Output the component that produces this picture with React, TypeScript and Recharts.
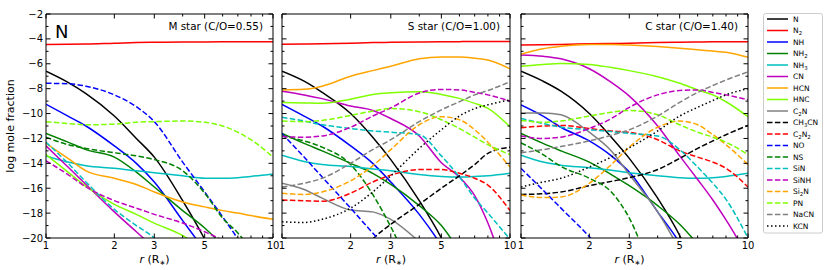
import React from 'react'
import { LineChart, Line, XAxis, YAxis } from 'recharts'

const W = 830
const H = 270
const TOP = 14
const BOTTOM = 238

// radius grid (R*) shared by every panel
const R = [1, 1.25, 1.5, 2, 2.5, 3, 4, 5, 6, 7, 8, 10]

const NAMES = ['N', 'N_2', 'NH', 'NH_2', 'NH_3', 'CN', 'HCN', 'HNC', 'C_2N', 'CH_3CN', 'C_2N_2', 'NO', 'NS', 'SiN', 'SiNH', 'Si_2N', 'PN', 'NaCN', 'KCN']
const COLORS = ['#000000', '#ff0000', '#0000ff', '#008000', '#00bfbf', '#bf00bf', '#ffa500', '#7fff00', '#808080', '#000000', '#ff0000', '#0000ff', '#008000', '#00bfbf', '#bf00bf', '#ffa500', '#7fff00', '#808080', '#000000']
const DASH = '5.5 2.4'
const DOT = '1.5 2.5'
const DASHES = ['', '', '', '', '', '', '', '', '', DASH, DASH, DASH, DASH, DASH, DASH, DASH, DASH, DASH, DOT]

const X_TICKS = [1, 2, 3, 4, 5, 6, 7, 8, 9, 10]
const X_LABELS = [1, 2, 3, 5, 10]
const Y_TICKS = [-20, -19, -18, -17, -16, -15, -14, -13, -12, -11, -10, -9, -8, -7, -6, -5, -4, -3, -2]
const Y_LABELS = [-20, -18, -16, -14, -12, -10, -8, -6, -4, -2]

// log mole fraction, rows in NAMES order, columns on R
const M_STAR = [
  [-6.6, -7.5, -8.4, -10.2, -12.0, -13.5, -17.0, -20.1, -23, -26, -29, -35], // N
  [-4.45, -4.44, -4.42, -4.35, -4.3, -4.27, -4.25, -4.24, -4.23, -4.22, -4.22, -4.22], // N2
  [-9.25, -10.2, -11.0, -12.6, -14.0, -15.5, -18.6, -21, -23, -25, -27, -30], // NH
  [-11.6, -12.3, -12.9, -13.5, -14.7, -15.9, -17.8, -19.2, -20.6, -22, -23, -25], // NH2
  [-13.4, -13.9, -14.2, -14.4, -14.6, -14.75, -15.0, -15.2, -15.2, -15.15, -15.05, -14.85], // NH3
  [-12.6, -14.3, -15.7, -17.9, -19.5, -20.8, -23, -25, -27, -29, -31, -35], // CN
  [-12.4, -13.6, -14.6, -15.2, -15.7, -16.3, -17.1, -17.5, -17.8, -18.0, -18.2, -18.5], // HCN
  [-13.3, -14.7, -15.85, -17.3, -18.1, -18.8, -19.8, -21, -22, -23, -24, -26], // HNC
  null, // C2N
  null, // CH3CN
  null, // C2N2
  [-7.57, -7.6, -7.8, -8.5, -9.45, -10.65, -13.9, -16.3, -18.3, -20.1, -22, -26], // NO
  [-11.9, -12.5, -12.8, -13.15, -13.4, -13.7, -14.6, -16.4, -18.4, -19.6, -21, -25], // NS
  [-12.3, -14.0, -15.5, -17.7, -19.0, -20.0, -22.5, -25, -27, -29, -31, -35], // SiN
  [-13.8, -14.9, -15.9, -17.0, -17.6, -18.1, -18.8, -19.5, -20.2, -21, -22, -24], // SiNH
  null, // Si2N
  [-10.65, -10.8, -10.9, -10.85, -10.7, -10.65, -10.6, -10.7, -11.0, -11.5, -12.1, -13.5], // PN
  null, // NaCN
  null, // KCN
]

const S_STAR = [
  [-6.6, -7.4, -8.3, -10.0, -11.9, -13.7, -17.0, -20.0, -23, -26, -29, -35], // N
  [-4.44, -4.42, -4.4, -4.35, -4.3, -4.28, -4.25, -4.23, -4.22, -4.21, -4.2, -4.2], // N2
  [-9.26, -10.2, -11.0, -12.6, -14.0, -15.5, -18.1, -20.6, -23, -25, -27, -30], // NH
  [-11.6, -12.4, -13.0, -14.0, -14.8, -15.7, -17.4, -19.0, -21, -22.5, -24, -27], // NH2
  [-13.35, -13.85, -14.1, -14.25, -14.45, -14.6, -14.9, -15.05, -15.1, -15.05, -15.0, -14.8], // NH3
  [-8.2, -8.5, -8.8, -9.4, -9.75, -10.4, -11.8, -13.95, -15.1, -16.6, -18.8, -24], // CN
  [-8.1, -8.05, -7.8, -7.0, -6.55, -6.2, -5.6, -5.45, -5.45, -5.55, -5.7, -6.4], // HCN
  [-9.1, -9.15, -9.18, -8.85, -8.46, -8.32, -8.24, -8.46, -8.78, -9.18, -9.58, -11.06], // HNC
  [-15.6, -16.1, -16.8, -17.75, -17.9, -18.5, -20.3, -22, -24, -26, -28, -32], // C2N
  [-28, -26, -24.5, -22.5, -20.1, -18.9, -17.3, -16.0, -15.0, -14.1, -13.2, -12.7], // CH3CN
  [-16.95, -17.0, -17.05, -16.4, -15.5, -14.95, -14.5, -14.5, -14.8, -15.2, -15.75, -17.8], // C2N2
  [-11.6, -13.5, -15.1, -17.6, -19.6, -21.2, -24, -27, -30, -33, -36, -40], // NO
  [-11.8, -12.2, -12.7, -14.1, -16.5, -19.1, -24, -28, -32, -35, -38, -42], // NS
  [-10.3, -10.6, -10.9, -11.2, -11.4, -11.5, -11.7, -13.4, -15.1, -16.8, -18.0, -20.1], // SiN
  [-11.85, -11.9, -11.8, -11.1, -10.2, -9.55, -8.35, -8.06, -8.1, -8.3, -8.5, -9.0], // SiNH
  [-16.4, -16.5, -16.3, -15.4, -14.2, -12.9, -10.9, -10.25, -10.5, -11.3, -12.3, -14.3], // Si2N
  [-10.6, -10.65, -10.55, -10.15, -9.8, -9.6, -9.85, -10.5, -11.2, -11.9, -12.5, -13.3], // PN
  [-15.9, -15.6, -15.2, -14.0, -12.9, -12.1, -10.65, -9.7, -9.05, -8.5, -8.15, -7.45], // NaCN
  [-18.7, -18.75, -18.5, -17.6, -16.3, -15.0, -12.8, -11.3, -10.2, -9.6, -9.3, -8.9], // KCN
]

const C_STAR = [
  [-6.6, -7.4, -8.2, -10.0, -11.9, -13.6, -16.8, -19.8, -23, -26, -29, -35], // N
  [-4.5, -4.48, -4.45, -4.4, -4.37, -4.35, -4.3, -4.27, -4.25, -4.23, -4.22, -4.22], // N2
  [-9.3, -10.2, -11.1, -12.2, -13.4, -14.7, -17.9, -20.4, -23, -25, -27, -30], // NH
  [-11.6, -12.4, -13.0, -13.9, -14.9, -15.8, -17.4, -18.9, -20.5, -22, -23.5, -26], // NH2
  [-13.35, -13.9, -14.15, -14.35, -14.55, -14.75, -15.0, -15.15, -15.2, -15.15, -15.05, -14.8], // NH3
  [-5.3, -5.4, -5.6, -6.4, -7.5, -8.6, -11.0, -13.4, -15.3, -16.95, -18.55, -21.5], // CN
  [-5.24, -4.8, -4.6, -4.45, -4.45, -4.5, -4.62, -4.75, -4.88, -4.98, -5.08, -5.48], // HCN
  [-6.2, -6.05, -5.98, -6.05, -6.3, -6.55, -7.04, -7.57, -8.1, -8.5, -9.05, -10.25], // HNC
  [-9.95, -9.95, -10.1, -11.5, -13.0, -14.9, -17.9, -21, -24, -27, -30, -35], // C2N
  [-16.5, -16.45, -16.3, -15.8, -15.45, -15.15, -14.5, -13.6, -12.8, -12.2, -11.7, -10.95], // CH3CN
  [-11.15, -11.0, -10.95, -11.2, -11.4, -11.5, -12.1, -13.0, -13.5, -13.9, -14.4, -15.9], // C2N2
  [-14.4, -16.15, -17.6, -19.9, -22, -24, -28, -32, -35, -38, -40, -45], // NO
  [-12.35, -13.3, -14.25, -15.2, -16.3, -18.4, -24, -28, -32, -35, -38, -42], // NS
  [-10.4, -10.8, -11.1, -11.3, -11.45, -11.6, -11.8, -12.9, -14.3, -15.6, -16.9, -20.0], // SiN
  [-11.8, -12.0, -11.9, -11.2, -10.4, -9.5, -8.5, -8.15, -8.1, -8.3, -8.5, -8.9], // SiNH
  [-16.55, -16.75, -16.7, -15.6, -14.1, -12.7, -11.1, -10.6, -10.9, -11.7, -12.5, -14.1], // Si2N
  [-10.55, -10.7, -10.6, -10.2, -9.9, -9.75, -10.1, -10.9, -11.5, -11.9, -12.3, -13.3], // PN
  [-13.15, -12.9, -12.65, -12.2, -11.75, -11.3, -10.2, -9.1, -8.3, -7.75, -7.3, -6.65], // NaCN
  [-15.9, -15.5, -15.2, -14.3, -13.5, -12.75, -11.4, -10.2, -9.5, -8.95, -8.5, -8.0], // KCN
]

const PANELS = [
  { title: 'M star (C/O=0.55)', left: 46, right: 273, values: M_STAR },
  { title: 'S star (C/O=1.00)', left: 282, right: 510, values: S_STAR },
  { title: 'C star (C/O=1.40)', left: 521, right: 748, values: C_STAR },
]

const FONT = 'DejaVu Sans'

const fmt = (v: number) => (v < 0 ? '\u2212' + Math.abs(v) : String(v))

// "C_2N_2" -> C<sub>2</sub>N<sub>2</sub>
function Formula({ name, size }: { name: string; size: number }) {
  const parts = name.split(/_(\d)/)
  const out: React.ReactNode[] = []
  let shifted = false
  parts.forEach((part, i) => {
    if (!part) return
    if (i % 2 === 1) {
      out.push(<tspan key={i} dy={size * 0.3} fontSize={size * 0.72}>{part}</tspan>)
      shifted = true
    } else {
      out.push(<tspan key={i} dy={shifted ? -size * 0.3 : 0}>{part}</tspan>)
      shifted = false
    }
  })
  return <>{out}</>
}

function Panel({ panel, first }: { panel: typeof PANELS[number]; first: boolean }) {
  const data = R.map((r, i) => {
    const row: Record<string, number> = { r }
    panel.values.forEach((arr, s) => {
      if (arr) row[NAMES[s]] = arr[i]
    })
    return row
  })

  const bottomTick = (props: any) => {
    const { x, payload } = props
    const major = X_LABELS.includes(payload.value)
    return (
      <g>
        <line x1={x} x2={x} y1={BOTTOM} y2={BOTTOM - (major ? 4.5 : 2.5)} stroke="#000" strokeWidth={1} />
        {major && (
          <text x={x} y={249} textAnchor="middle" fontSize={10} fontFamily={FONT} fill="#000">
            {payload.value}
          </text>
        )}
      </g>
    )
  }
  const topTick = (props: any) => {
    const { x, payload } = props
    const major = X_LABELS.includes(payload.value)
    return <line x1={x} x2={x} y1={TOP} y2={TOP + (major ? 4.5 : 2.5)} stroke="#000" strokeWidth={1} />
  }
  const leftTick = (props: any) => {
    const { y, payload } = props
    const major = Y_LABELS.includes(payload.value)
    return (
      <g>
        <line x1={panel.left} x2={panel.left + (major ? 4.5 : 2.5)} y1={y} y2={y} stroke="#000" strokeWidth={1} />
        {first && major && (
          <text x={panel.left - 3} y={y + 3.6} textAnchor="end" fontSize={10} fontFamily={FONT} fill="#000">
            {fmt(payload.value)}
          </text>
        )}
      </g>
    )
  }
  const rightTick = (props: any) => {
    const { y, payload } = props
    const major = Y_LABELS.includes(payload.value)
    return <line x1={panel.right} x2={panel.right - (major ? 4.5 : 2.5)} y1={y} y2={y} stroke="#000" strokeWidth={1} />
  }

  // axes get a 1px band so Recharts still draws them; margins make up the rest
  return (
    <div style={{ position: 'absolute', left: 0, top: 0 }}>
      <LineChart
        width={W}
        height={H}
        data={data}
        margin={{ top: TOP - 1, bottom: H - BOTTOM - 1, left: panel.left - 1, right: W - panel.right - 1 }}
      >
        <XAxis dataKey="r" type="number" scale="log" domain={[1, 10]} allowDataOverflow ticks={X_TICKS} interval={0}
          height={1} tickLine={false} axisLine={{ stroke: '#000' }} tick={bottomTick} />
        <XAxis xAxisId="top" orientation="top" dataKey="r" type="number" scale="log" domain={[1, 10]} allowDataOverflow
          ticks={X_TICKS} interval={0} height={1} tickLine={false} axisLine={{ stroke: '#000' }} tick={topTick} />
        <YAxis type="number" domain={[-20, -2]} allowDataOverflow ticks={Y_TICKS} interval={0} width={1}
          tickLine={false} axisLine={{ stroke: '#000' }} tick={leftTick} />
        <YAxis yAxisId="right" orientation="right" type="number" domain={[-20, -2]} allowDataOverflow ticks={Y_TICKS}
          interval={0} width={1} tickLine={false} axisLine={{ stroke: '#000' }} tick={rightTick} />
        {NAMES.map((name, s) =>
          panel.values[s] ? (
            <Line
              key={name}
              dataKey={name}
              type="monotone"
              stroke={COLORS[s]}
              strokeWidth={1.5}
              strokeDasharray={DASHES[s] || undefined}
              dot={false}
              activeDot={false}
              isAnimationActive={false}
            />
          ) : null
        )}
      </LineChart>
    </div>
  )
}

function Overlay() {
  return (
    <svg width={W} height={H} style={{ position: 'absolute', left: 0, top: 0 }} fontFamily={FONT}>
      <text transform="translate(14,126) rotate(-90)" textAnchor="middle" fontSize={11} fill="#000">
        log mole fraction
      </text>
      <text x={55} y={38} fontSize={18} fill="#000">N</text>
      {PANELS.map((p) => (
        <g key={p.title}>
          <text x={p.right - 10} y={30} textAnchor="end" fontSize={10.4} fill="#000">{p.title}</text>
          <text x={(p.left + p.right) / 2 - 5} y={263} textAnchor="middle" fontSize={11} fill="#000">
            <tspan fontStyle="italic">r</tspan> (R<tspan fontSize={7} dy={2}>∗</tspan>
            <tspan dy={-2}>)</tspan>
          </text>
        </g>
      ))}
      <rect x={763.5} y={13.5} width={59} height={219.5} rx={2} fill="#fff" stroke="#cccccc" strokeWidth={1} />
      {NAMES.map((name, s) => {
        const y = 19 + s * 11.5
        return (
          <g key={name}>
            <line x1={767} x2={788} y1={y} y2={y} stroke={COLORS[s]} strokeWidth={1.5} strokeDasharray={DASHES[s] || undefined} />
            <text x={793} y={y + 2.7} fontSize={7.5} fill="#000">
              <Formula name={name} size={7.5} />
            </text>
          </g>
        )
      })}
    </svg>
  )
}

export default function App() {
  return (
    <div style={{ position: 'absolute', left: 0, top: 0, width: W, height: H, background: '#fff', fontFamily: FONT }}>
      {PANELS.map((p, i) => (
        <Panel key={p.title} panel={p} first={i === 0} />
      ))}
      <Overlay />
    </div>
  )
}
